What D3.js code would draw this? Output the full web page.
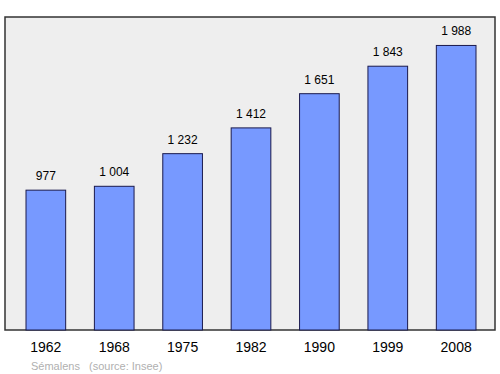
<!DOCTYPE html>
<html>
<head>
<meta charset="utf-8">
<script src="https://cdn.jsdelivr.net/npm/d3@7"></script>
<style>
  body { margin: 0; background: #fff; }
  text { font-family: "Liberation Sans", Arial, sans-serif; }
</style>
</head>
<body>
<div id="chart"></div>
<script>
// population data
const years = ["1962", "1968", "1975", "1982", "1990", "1999", "2008"];
const population = [977, 1004, 1232, 1412, 1651, 1843, 1988];
const commune = "Sémalens";
const source = "(source: Insee)";

const width = 500, height = 374;
const panel = { left: 5, top: 17, right: 495, bottom: 330 };

const svg = d3.select("#chart").append("svg")
  .attr("width", width)
  .attr("height", height);

// gray panel
svg.append("rect")
  .attr("x", panel.left).attr("y", panel.top)
  .attr("width", panel.right - panel.left)
  .attr("height", panel.bottom - panel.top)
  .attr("fill", "#eeeeee")
  .attr("stroke", "#333")
  .attr("stroke-width", 1.5);

const x = d3.scaleBand()
  .domain(years)
  .range([26, 476])
  .paddingInner(0.42)
  .paddingOuter(0);

const y = d3.scaleLinear()
  .domain([0, d3.max(population) * 1.1])
  .range([panel.bottom, panel.top]);

const data = years.map((yr, i) => ({ year: yr, value: population[i] }));

svg.selectAll("rect.bar")
  .data(data)
  .join("rect")
  .attr("class", "bar")
  .attr("x", d => x(d.year))
  .attr("y", d => y(d.value))
  .attr("width", x.bandwidth())
  .attr("height", d => panel.bottom - y(d.value))
  .attr("fill", "#7799ff")
  .attr("stroke", "#1a1a4d")
  .attr("stroke-width", 1);

// value labels
svg.selectAll("text.val")
  .data(data)
  .join("text")
  .attr("class", "val")
  .attr("x", d => x(d.year) + x.bandwidth() / 2)
  .attr("y", d => y(d.value) - 10)
  .attr("text-anchor", "middle")
  .attr("font-size", 12)
  .attr("fill", "#000")
  .text(d => d3.format(",")(d.value).replace(",", " "));

// year labels
svg.selectAll("text.year")
  .data(data)
  .join("text")
  .attr("class", "year")
  .attr("x", d => x(d.year) + x.bandwidth() / 2)
  .attr("y", 352)
  .attr("text-anchor", "middle")
  .attr("font-size", 14)
  .attr("fill", "#000")
  .text(d => d.year);

// footer
svg.append("text")
  .attr("x", 31).attr("y", 370)
  .attr("font-size", 11)
  .attr("fill", "#b0b0b0")
  .text(commune);
svg.append("text")
  .attr("x", 89).attr("y", 370)
  .attr("font-size", 11)
  .attr("fill", "#b0b0b0")
  .text(source);
</script>
</body>
</html>
